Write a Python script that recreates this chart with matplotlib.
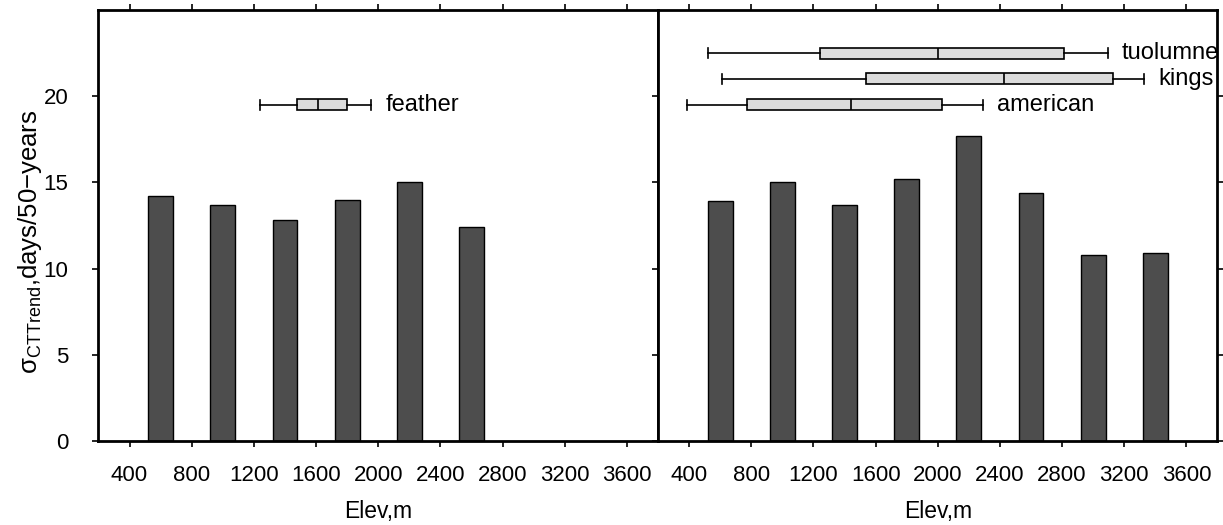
import numpy as np
import matplotlib.pyplot as plt

plt.rcParams['font.family'] = ['Liberation Sans', 'DejaVu Sans']
plt.rcParams['mathtext.fontset'] = 'custom'
plt.rcParams['mathtext.rm'] = 'Liberation Sans'

# bar data
elev_left = [600, 1000, 1400, 1800, 2200, 2600]
sigma_left = [14.2, 13.7, 12.8, 14.0, 15.0, 12.4]
elev_right = [600, 1000, 1400, 1800, 2200, 2600, 3000, 3400]
sigma_right = [13.9, 15.0, 13.7, 15.2, 17.7, 14.4, 10.8, 10.9]

# elevation distributions of the basins (whislo, q1, med, q3, whishi)
basins_left = ['feather']
box_left = [[1240, 1475, 1610, 1800, 1955]]
ypos_left = [19.5]
basins_right = ['american', 'kings', 'tuolumne']
box_right = [[385, 770, 1440, 2030, 2290],
             [615, 1540, 2425, 3125, 3330],
             [525, 1245, 2000, 2815, 3095]]
ypos_right = [19.5, 21.0, 22.5]

xticks = np.arange(400, 3601, 400)
yticks = [0, 5, 10, 15, 20]

fig = plt.figure(figsize=(12.23, 5.25), dpi=100)
ax1 = fig.add_axes([0.0805, 0.160, 0.4575, 0.821])
ax2 = fig.add_axes([0.538, 0.160, 0.4575, 0.821])


def draw_panel(ax, elev, sigma, names, boxes, ypos):
    ax.bar(elev, sigma, width=160, color='#4d4d4d', edgecolor='black', linewidth=1.0, zorder=2)
    stats = []
    for name, b in zip(names, boxes):
        stats.append(dict(label=name, whislo=b[0], q1=b[1], med=b[2], q3=b[3], whishi=b[4]))
    ax.bxp(stats, positions=ypos, orientation='horizontal', widths=0.64, capwidths=0.55,
           patch_artist=True, showfliers=False, manage_ticks=False,
           boxprops=dict(facecolor='#dcdcdc', edgecolor='black', linewidth=1.2),
           medianprops=dict(color='black', linewidth=1.2),
           whiskerprops=dict(color='black', linewidth=1.2),
           capprops=dict(color='black', linewidth=1.2))
    for name, b, y in zip(names, boxes, ypos):
        ax.text(b[4] + 90, y, name, fontsize=17, va='center', ha='left', clip_on=False)
    ax.set_xlim(200, 3800)
    ax.set_ylim(0, 25)
    ax.set_xticks(xticks)
    ax.set_yticks(yticks)
    ax.tick_params(axis='x', direction='out', top=True, length=4.5, width=1.2,
                   labelsize=16, pad=12.5)
    ax.tick_params(axis='y', direction='out', right=True, length=4.5, width=1.2,
                   labelsize=16, pad=17)
    for s in ax.spines.values():
        s.set_linewidth(2.0)
        s.set_zorder(5)
    ax.set_xlabel('Elev,m', fontsize=16.5, labelpad=10.5)


draw_panel(ax1, elev_left, sigma_left, basins_left, box_left, ypos_left)
draw_panel(ax2, elev_right, sigma_right, basins_right, box_right, ypos_right)
ax2.tick_params(axis='y', labelleft=False)

ax1.set_ylabel('σ$_{\\mathrm{CTTrend}}$,days/50−years', fontsize=18.5)
ax1.yaxis.set_label_coords(-0.097, 0.463)

fig.savefig('out.png', dpi=100)
